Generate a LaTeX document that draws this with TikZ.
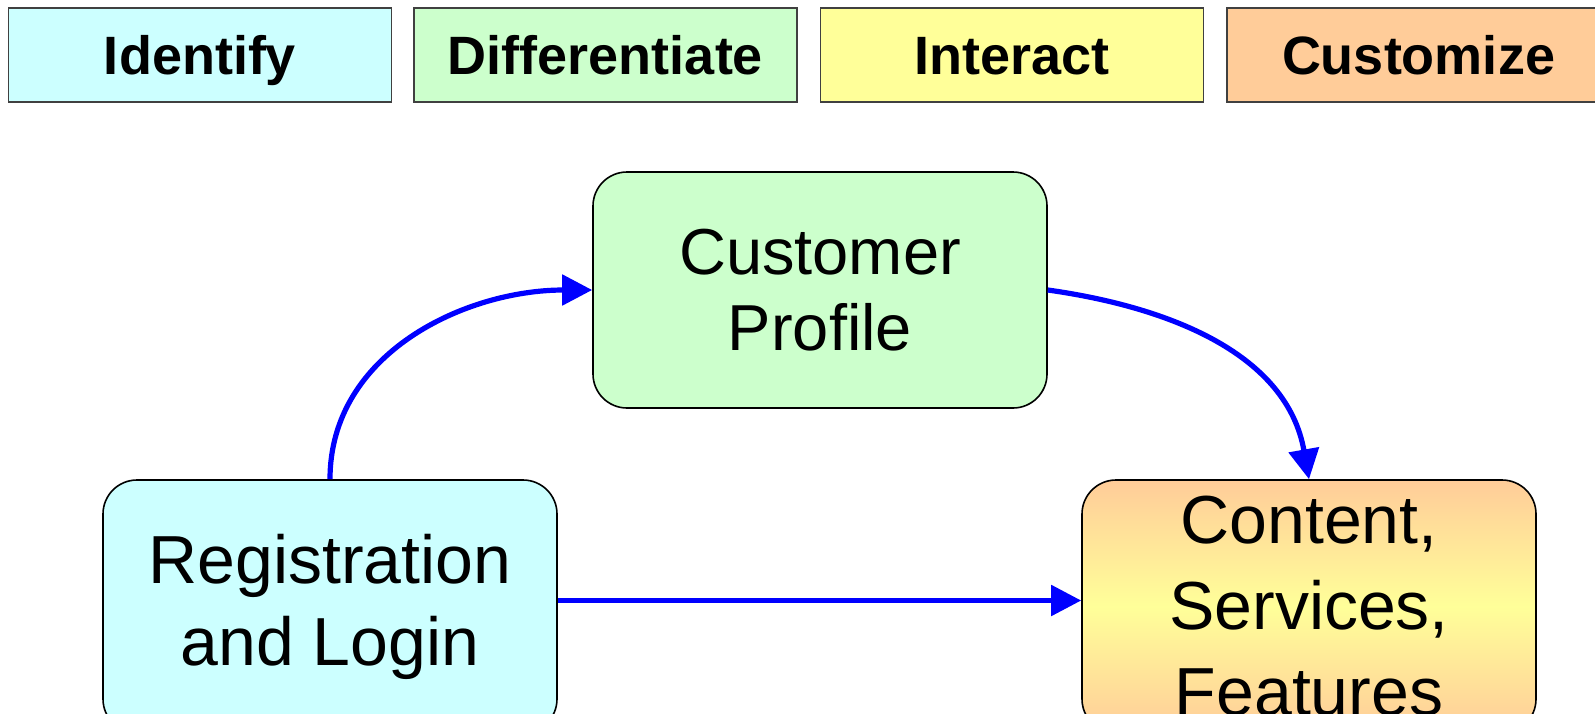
\documentclass[tikz,border=0pt]{standalone}
\usepackage{fontspec}
\setmainfont{Liberation Sans}
\usetikzlibrary{arrows.meta,positioning}
\definecolor{idcyan}{HTML}{CCFFFF}
\definecolor{difgreen}{HTML}{CCFFCC}
\definecolor{intyellow}{HTML}{FFFF99}
\definecolor{custorange}{HTML}{FFCC99}
\definecolor{hdrgray}{HTML}{404040}
\definecolor{flowblue}{HTML}{0000FF}
\begin{document}
\begin{tikzpicture}[
      x=0.5pt, y=-0.5pt,
      phase/.style={draw=hdrgray,line width=0.6pt,minimum width=191.5pt,minimum height=47pt,inner sep=0pt,
        text height=19.5pt,text depth=0pt,font=\bfseries\fontsize{27pt}{32pt}\selectfont},
      block/.style={draw=black,line width=0.8pt,rounded corners=17pt,minimum width=227pt,inner sep=0pt,align=center},
      flow/.style={draw=flowblue,line width=2.6pt,-{Triangle[length=15pt,width=15pt]}}
    ]
    \useasboundingbox (0,0) rectangle (1595,713);
    \clip (0,0) rectangle (1595,713);
    % Draw the phase headers.
    \node[phase,fill=idcyan]      (identify) at (200,55)    {Identify};
    \node[phase,fill=difgreen]    (differ)   at (605.5,55)  {Differentiate};
    \node[phase,fill=intyellow]   (interact) at (1012,55)   {Interact};
    \node[phase,fill=custorange]  (custom)   at (1418.5,55) {Customize};
    % Draw the blocks.
    \node[block,fill=difgreen,minimum height=118pt,font=\fontsize{32.5pt}{38pt}\selectfont]
      (profile) at (820,290) {Customer\\Profile};
    \node[block,fill=idcyan,minimum height=126.5pt,font=\fontsize{34pt}{41pt}\selectfont]
      (reg) at (330,606.5) {Registration\\and Login};
    \node[block,top color=custorange,bottom color=custorange,middle color=intyellow,
      minimum height=126.5pt,font=\fontsize{34pt}{43pt}\selectfont]
      (content) at (1309,606.5) {Content,\\Services,\\Features};
    % Draw the flows.
    \draw[flow] (reg.north) to[out=90,in=180] (profile.west);
    \draw[flow] (profile.east) to[out=-8,in=100] (content.north);
    \draw[flow] ([yshift=3pt]reg.east) -- ([yshift=3pt]content.west);
\end{tikzpicture}
\end{document}
